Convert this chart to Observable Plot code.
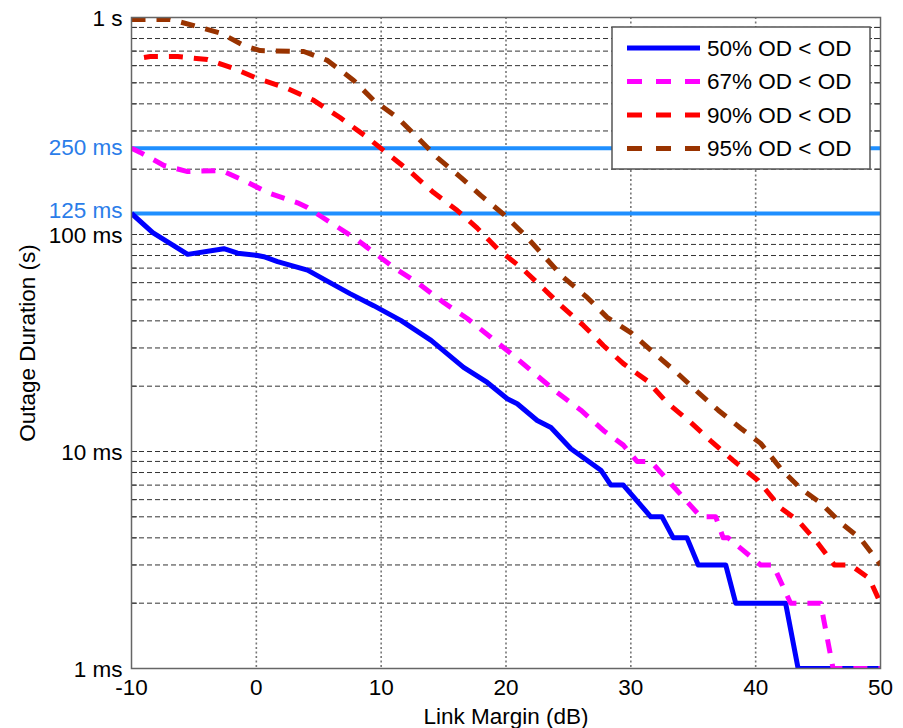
<!DOCTYPE html>
<html>
<head>
<meta charset="utf-8">
<script src="https://cdn.jsdelivr.net/npm/d3@7"></script>
<script src="https://cdn.jsdelivr.net/npm/@observablehq/plot@0.6"></script>
<style>
  html, body { margin: 0; padding: 0; background: #fff; }
  #chart { width: 903px; height: 728px; }
</style>
</head>
<body>
<div id="chart"></div>
<script>
// ---- Data (x = link margin in dB, y = outage duration in ms) ----
const x50 = [-10,-8.3,-5.5,-2.6,-1.5,0.1,0.6,1.7,4.1,5.9,7.5,9.4,11.6,14.0,16.6,18.5,20.1,20.9,22.5,23.6,25.2,27.6,28.4,29.4,31.6,32.5,33.4,34.5,35.4,37.6,38.4,42.4,43.4,50];
const y50 = [125,102,81,86,82,80,79,75,68.5,60,53.4,47,40.1,32.5,24.4,20.8,17.5,16.6,13.9,12.9,10.3,8.2,7,7,5,5,4,4,3,3,2,2,1,1];

const x67 = [-10,-9.3,-7.4,-5.5,-3.1,-2.6,-0.7,0.9,3.3,4.1,5.1,7.8,8.9,11.0,12.9,15.0,16.9,18.8,20.4,22.2,24.1,26.0,27.8,29.4,30.5,31.6,35.6,36.8,37.4,37.8,40.4,41.4,42.8,45.2,46.2,50];
const y67 = [250,239,208,195,197,195,174,156,140,133,122,97,87,70.5,60,48.6,41,33.5,28.3,23.1,18.7,15.5,12.5,10.7,9,9,5,5,4,4,3,3,2,2,1,1];

const x90 = [-9,-8.5,-6.3,-3.9,-1.8,0.1,2.5,4.6,6.7,8.9,10.5,12.4,14.2,16.1,17.7,19.3,21.2,23.0,24.4,26.2,27.8,29.4,31.3,32.9,34.8,36.4,38.2,40.2,42.0,43.4,45.0,46.3,47.6,49.1,50];
const y90 = [654,661,661,640,582,523,471,415,346,280,236,193,156,129,107,86,70.5,56.4,47.1,38.1,30.8,25.4,21.2,16.8,13.6,11.2,9.1,7.35,5.5,4.8,3.77,3,3,2.6,2];

const x95 = [-10,-6.9,-5.0,-2.8,-1.0,0.3,3.8,5.7,7.8,9.4,11.3,12.9,14.5,16.4,18.0,19.8,21.4,23.0,24.6,26.5,28.1,30.0,31.8,33.5,35.4,37.0,38.8,40.4,42.0,43.6,45.2,46.8,48.4,50];
const y95 = [980,980,918,844,743,704,697,634,513,415,346,280,226,183,151,124,101,80,63.4,51.3,41.5,35.3,28.6,23.6,18.7,15.5,12.8,10.9,8.35,6.75,5.8,4.7,3.97,3];

const seriesNames = ["50% OD < OD", "67% OD < OD", "90% OD < OD", "95% OD < OD"];
const seriesColors = ["#0000ff", "#ff00ff", "#ff0000", "#993300"];
const seriesDash = [null, "14,11", "14,11", "14,11"];

const refValues = [250, 125];
const refLabels = ["250 ms", "125 ms"];

const xTicks = [-10, 0, 10, 20, 30, 40, 50];
const yTickValues = [1, 10, 100, 1000];
const yTickLabels = ["1 ms", "10 ms", "100 ms", "1 s"];

const xLabel = "Link Margin (dB)";
const yLabel = "Outage Duration (s)";

// grid values (1..9 times each decade)
const yGrid = [];
for (const d of [1, 10, 100]) for (let k = 1; k <= 9; k++) yGrid.push(d * k);
yGrid.push(1000);
const xGrid = [0, 10, 20, 30, 40];

const W = 903, H = 728;
const mL = 131, mR = 23, mT = 17, mB = 60;
const pw = W - mL - mR, ph = H - mT - mB;

const xs = [x50, x67, x90, x95];
const ys = [y50, y67, y90, y95];

const lineMarks = xs.map((xa, i) =>
  Plot.line(xa.map((x, j) => ({x, y: ys[i][j]})), {
    x: "x", y: "y",
    stroke: seriesColors[i],
    strokeWidth: 5,
    strokeDasharray: seriesDash[i] || undefined,
    strokeLinejoin: "round",
    strokeLinecap: "butt",
    clip: true
  })
);

const fontFamily = "'Liberation Sans', Arial, Helvetica, sans-serif";
const FS = 22.5;
const refColor = "#2b7de9";
const fmtRef = d => refLabels[refValues.indexOf(d)];

const chart = Plot.plot({
  width: W, height: H,
  marginLeft: mL, marginRight: mR, marginTop: mT, marginBottom: mB,
  style: {fontFamily, fontSize: FS + "px", background: "#fff", color: "#000"},
  x: {domain: [-10, 50]},
  y: {type: "log", domain: [1, 1000]},
  marks: [
    // horizontal dashed grid
    Plot.ruleY(yGrid, {stroke: "#333", strokeWidth: 1, strokeDasharray: "5,3"}),
    // vertical dotted grid
    Plot.ruleX(xGrid, {stroke: "#777", strokeWidth: 1.6, strokeDasharray: "2,2.5"}),
    // inner ticks left/right
    Plot.tickY(yGrid, {y: d => d, stroke: "#333", insetRight: pw - 6}),
    Plot.tickY(yGrid, {y: d => d, stroke: "#333", insetLeft: pw - 6}),
    // reference lines
    Plot.ruleY(refValues, {stroke: "#1f8fff", strokeWidth: 4}),
    ...lineMarks,
    Plot.frame({stroke: "#666", strokeWidth: 1.5}),
    Plot.axisX({ticks: xTicks, tickSize: 0, tickPadding: 11, tickFormat: d => String(d), label: null, fontSize: FS}),
    Plot.axisY({ticks: yTickValues, tickSize: 0, tickPadding: 9, tickFormat: d => yTickLabels[yTickValues.indexOf(d)], label: null, fontSize: FS, dy: 1}),
    Plot.axisY({ticks: [refValues[0]], tickSize: 0, tickPadding: 9, tickFormat: fmtRef, label: null, fontSize: FS, color: refColor}),
    Plot.axisY({ticks: [refValues[1]], tickSize: 0, tickPadding: 9, tickFormat: fmtRef, label: null, fontSize: FS, color: refColor, dy: -3}),
    Plot.text([xLabel], {frameAnchor: "bottom", dy: 48, fontSize: FS, lineAnchor: "middle", textAnchor: "middle"}),
    Plot.text([yLabel], {frameAnchor: "left", rotate: -90, dx: -104, dy: 0, fontSize: FS, lineAnchor: "middle", textAnchor: "middle"})
  ]
});

// legend
const svg = d3.select(chart);
const lg = svg.append("g").attr("font-family", fontFamily).attr("font-size", FS).attr("text-anchor", "start");
lg.append("rect").attr("x", 612).attr("y", 27).attr("width", 258).attr("height", 142)
  .attr("fill", "#fff").attr("stroke", "#555").attr("stroke-width", 1.5);
seriesNames.forEach((name, i) => {
  const cy = 48 + i * 33.5;
  lg.append("line").attr("x1", 627).attr("x2", 700).attr("y1", cy).attr("y2", cy)
    .attr("stroke", seriesColors[i]).attr("stroke-width", 5)
    .attr("stroke-dasharray", seriesDash[i] ? "15,14" : null);
  lg.append("text").attr("x", 707).attr("y", cy).attr("dy", "0.35em")
    .attr("text-anchor", "start").attr("fill", "#000").text(name);
});

document.getElementById("chart").appendChild(chart);
</script>
</body>
</html>
